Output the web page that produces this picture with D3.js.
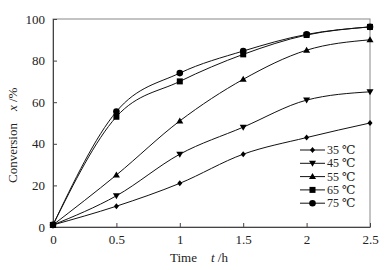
<!DOCTYPE html>
<html><head><meta charset="utf-8">
<script src="https://cdn.jsdelivr.net/npm/d3@7"></script>
<style>body{margin:0;background:#fff}svg{display:block}text{font-family:"Liberation Serif","DejaVu Serif",serif}</style>
</head><body><svg id="c" width="390" height="270"></svg>
<script>
const times = [0, 0.5, 1, 1.5, 2, 2.5];
const labels = ["35 ℃", "45 ℃", "55 ℃", "65 ℃", "75 ℃"];
const s35 = [1, 10, 21, 35, 43, 50];
const s45 = [1, 15, 35, 48, 61, 65];
const s55 = [1, 25, 51, 71, 85, 90];
const s65 = [1, 53, 70, 83, 92.3, 96.2];
const s75 = [1, 55.5, 74, 84.6, 92.6, 96.2];
const symbols = ["diamond", "down", "up", "square", "circle"];
const xTicks = [0, 0.5, 1, 1.5, 2, 2.5];
const yTicks = [0, 20, 40, 60, 80, 100];
const series = [s35, s45, s55, s65, s75];

const svg = d3.select("#c");
const L = 53, R = 370, T = 19, B = 227;
const x = d3.scaleLinear().domain([0, 2.5]).range([L, R]);
const y = d3.scaleLinear().domain([0, 100]).range([B, T]);

svg.append("rect").attr("x", L).attr("y", T).attr("width", R - L).attr("height", B - T)
  .attr("fill", "none").attr("stroke", "#888").attr("stroke-width", 1);

const xa = svg.append("g").attr("transform", `translate(0,${B})`)
  .call(d3.axisBottom(x).tickValues(xTicks).tickSizeInner(-4).tickSizeOuter(0).tickPadding(8).tickFormat(d3.format("")));
const ya = svg.append("g").attr("transform", `translate(${L},0)`)
  .call(d3.axisLeft(y).tickValues(yTicks).tickSizeInner(-4).tickSizeOuter(0).tickPadding(8));
[xa, ya].forEach(g => {
  g.select(".domain").attr("stroke", "#444");
  g.selectAll(".tick line").attr("stroke", "#444");
  g.selectAll("text").attr("font-size", 13).attr("fill", "#222").attr("font-family", "Liberation Serif");
});

function marker(g, type, cx, cy) {
  if (type === "circle") g.append("circle").attr("cx", cx).attr("cy", cy).attr("r", 3.3).attr("fill", "#000");
  else if (type === "square") g.append("rect").attr("x", cx - 3).attr("y", cy - 3).attr("width", 6).attr("height", 6).attr("fill", "#000");
  else if (type === "diamond") g.append("path").attr("d", `M${cx},${cy-3}L${cx+2.5},${cy}L${cx},${cy+3}L${cx-2.5},${cy}Z`).attr("fill", "#000");
  else if (type === "up") g.append("path").attr("d", `M${cx},${cy-3.5}L${cx+3.5},${cy+2.5}L${cx-3.5},${cy+2.5}Z`).attr("fill", "#000");
  else if (type === "down") g.append("path").attr("d", `M${cx},${cy+3.5}L${cx+3.5},${cy-2.5}L${cx-3.5},${cy-2.5}Z`).attr("fill", "#000");
}

const line = d3.line().x(d => x(d[0])).y(d => y(d[1])).curve(d3.curveMonotoneX);
series.forEach((s, i) => {
  const pts = times.map((t, j) => [t, s[j]]);
  svg.append("path").attr("d", line(pts)).attr("fill", "none").attr("stroke", "#111").attr("stroke-width", 1);
  const g = svg.append("g");
  pts.forEach(p => marker(g, symbols[i], x(p[0]), y(p[1])));
});

labels.forEach((lab, i) => {
  const ly = 150 + i * 13.3;
  svg.append("line").attr("x1", 300).attr("x2", 325).attr("y1", ly).attr("y2", ly).attr("stroke", "#111");
  marker(svg.append("g"), symbols[i], 312.5, ly);
  svg.append("text").attr("x", 327).attr("y", ly + 4).attr("font-size", 12).attr("fill", "#222").text(lab);
});

const xt = svg.append("text").attr("x", 170).attr("y", 262).attr("font-size", 13).attr("fill", "#222");
xt.append("tspan").text("Time");
xt.append("tspan").attr("dx", 14).attr("font-style", "italic").text("t");
xt.append("tspan").text(" /h");

const yt = svg.append("text").attr("transform", "translate(17,183) rotate(-90)").attr("font-size", 13).attr("fill", "#222");
yt.append("tspan").text("Conversion");
yt.append("tspan").attr("dx", 12).attr("font-style", "italic").text("x");
yt.append("tspan").text(" /%");
</script></body></html>
